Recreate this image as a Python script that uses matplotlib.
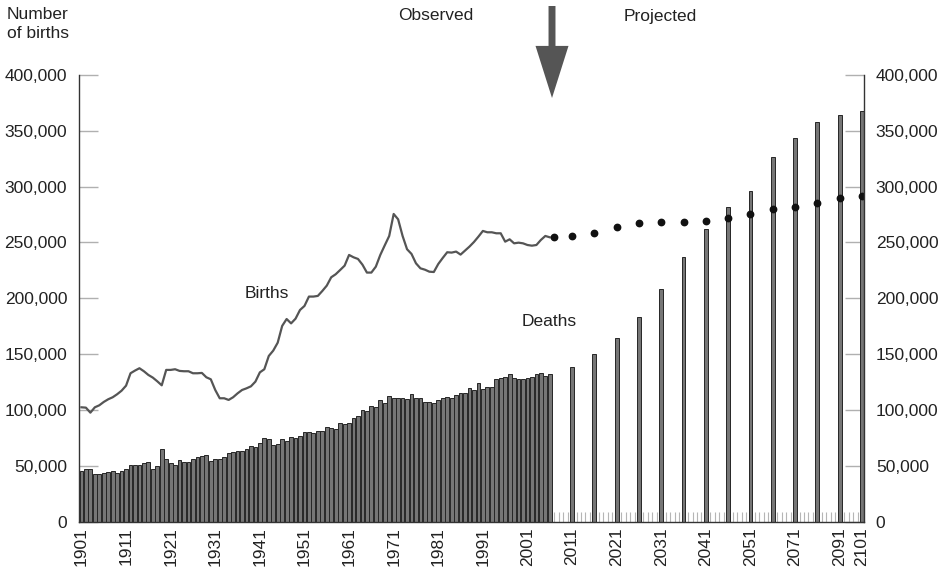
import numpy as np
import matplotlib
matplotlib.use("Agg")
import matplotlib.pyplot as plt

plt.rcParams["font.family"] = ["Liberation Sans", "DejaVu Sans"]
plt.rcParams["font.size"] = 12.5

# observed years 1901-2006
obs_years = list(range(1901, 2007))

# births, thousands
births = [102.3, 102.0, 97.5, 102.3, 104.1, 107.1, 109.5, 111.3, 114.0, 117.2,
          121.7, 132.8, 135.2, 137.3, 134.6, 131.3, 128.9, 125.6, 122.0, 135.8,
          135.8, 136.4, 134.9, 134.6, 134.6, 132.8, 132.8, 133.1, 129.2, 127.4,
          117.8, 110.4, 110.4, 108.9, 111.3, 114.8, 117.8, 119.3, 121.1, 125.3,
          133.6, 136.4, 148.3, 153.1, 160.2, 175.2, 181.4, 177.5, 181.7, 189.5,
          193.1, 201.5, 201.5, 202.1, 206.5, 211.3, 218.8, 221.5, 225.3, 229.2,
          238.8, 236.7, 235.2, 230.1, 223.0, 223.0, 228.3, 238.8, 247.4, 255.8,
          275.5, 270.7, 255.8, 243.9, 239.7, 231.3, 226.8, 225.6, 223.8, 223.5,
          230.7, 236.1, 241.2, 240.9, 241.8, 239.1, 242.7, 246.3, 250.4, 255.2,
          260.3, 259.1, 259.1, 258.2, 258.2, 250.7, 252.8, 249.2, 249.8, 249.2,
          247.7, 247.1, 247.7, 252.2, 255.8, 254.6]

# deaths, thousands
deaths = [45.5, 47.3, 46.7, 42.5, 42.5, 43.1, 44.0, 45.2, 43.1, 44.9,
          46.7, 50.9, 50.6, 50.6, 52.4, 53.6, 47.3, 49.4, 65.2, 55.7,
          52.7, 50.3, 55.1, 53.6, 53.6, 56.3, 57.5, 58.7, 59.9, 54.2,
          55.7, 56.0, 58.1, 61.4, 62.6, 62.9, 63.5, 65.3, 68.0, 67.1,
          70.1, 74.6, 73.7, 68.6, 69.2, 73.7, 72.5, 76.1, 74.6, 77.0,
          80.6, 80.6, 79.1, 81.2, 81.2, 85.1, 84.2, 83.0, 88.1, 87.5,
          88.1, 92.6, 94.1, 100.1, 99.2, 103.6, 102.2, 108.4, 106.0, 112.0,
          110.5, 110.5, 110.5, 109.6, 113.8, 110.5, 111.0, 107.4, 107.4, 105.9,
          108.9, 110.4, 111.9, 110.4, 113.3, 115.4, 115.4, 119.3, 117.8, 124.4,
          118.7, 120.2, 120.8, 127.3, 128.2, 129.7, 132.1, 128.2, 127.3, 127.3,
          128.2, 129.7, 132.1, 132.7, 130.6, 132.1]

# projections
proj_birth_years = [2007, 2011, 2016, 2021, 2026, 2031, 2036, 2041, 2046, 2051,
                    2061, 2071, 2081, 2091, 2101]
proj_births = [255.2, 255.8, 258.5, 263.6, 267.2, 268.2, 268.1, 269.3, 272.2, 275.2,
               280.0, 282.0, 285.6, 289.6, 291.9]
proj_death_years = [2011, 2016, 2021, 2026, 2031, 2036, 2041, 2046, 2051,
                    2061, 2071, 2081, 2091, 2101]
proj_deaths = [138.2, 149.8, 164.1, 183.5, 208.6, 236.7, 261.8, 281.8, 296.1,
               326.3, 343.3, 358.0, 364.0, 367.8]

tick_years = [1901, 1911, 1921, 1931, 1941, 1951, 1961, 1971, 1981, 1991, 2001,
              2011, 2021, 2031, 2041, 2051, 2071, 2091, 2101]


def slot(y):
    # category axis: one slot per year up to 2051, then one per two years
    y = np.asarray(y, dtype=float)
    return np.where(y <= 2051, y - 1901, 150 + (y - 2051) / 2)


fig = plt.figure(figsize=(9.46, 5.70), dpi=100)
ax = fig.add_axes([79 / 946, 48.5 / 570, 785 / 946, 446.5 / 570])

bar_kw = dict(width=0.85, color="#767676", edgecolor="#262626", linewidth=0.7)
ax.bar(slot(obs_years), np.array(deaths) * 1000, **bar_kw)
ax.bar(slot(proj_death_years), np.array(proj_deaths) * 1000, **bar_kw)

ax.plot(slot(obs_years), np.array(births) * 1000, color="#555555", lw=1.6)
ax.plot(slot(proj_birth_years), np.array(proj_births) * 1000, ls="none",
        marker="o", ms=4.6, color="#111111")

ax.set_xlim(-0.55, 175.45)
ax.set_ylim(0, 400000)
ax.set_axisbelow(True)

yt = np.arange(0, 400001, 50000)
ax.set_yticks(yt)
ax.set_yticklabels([f"{v:,}" for v in yt])
ax.tick_params(axis="y", which="both", direction="in", length=13.7, width=1,
               color="#b0b0b0", pad=8.5, left=True, right=True,
               labelleft=True, labelright=True, labelcolor="#222222")

ax.set_xticks(slot(tick_years))
ax.set_xticklabels([str(y) for y in tick_years], rotation=90, va="top", ha="center")
ax.set_xticks(np.arange(0, 176), minor=True)
ax.tick_params(axis="x", which="both", direction="in", length=7, width=0.8,
               color="#b5b5b5", pad=4, labelcolor="#222222")

ax.spines["top"].set_visible(False)
for s in ("left", "right", "bottom"):
    ax.spines[s].set_color("#333333")
    ax.spines[s].set_linewidth(1.0)

fig.text(7 / 946, 1 - 7 / 570, "Number\nof births", ha="left", va="top",
         color="#222222", linespacing=1.3)
fig.text(436 / 946, 1 - 16 / 570, "Observed", ha="center", va="center", color="#222222")
fig.text(660 / 946, 1 - 16 / 570, "Projected", ha="center", va="center", color="#222222")

fig.text(245 / 946, 1 - 293 / 570, "Births", ha="left", va="center", color="#222222")
fig.text(522 / 946, 1 - 322 / 570, "Deaths", ha="left", va="center", color="#222222")

ax.annotate("", xy=(105.5, 1 - 98 / 570), xytext=(105.5, 1 - 6 / 570),
            xycoords=("data", "figure fraction"), textcoords=("data", "figure fraction"),
            arrowprops=dict(arrowstyle="simple,head_length=3.0,head_width=1.9,tail_width=0.4",
                            color="#555555", shrinkA=0, shrinkB=0, lw=0),
            annotation_clip=False)

fig.savefig("out.png", dpi=100)
